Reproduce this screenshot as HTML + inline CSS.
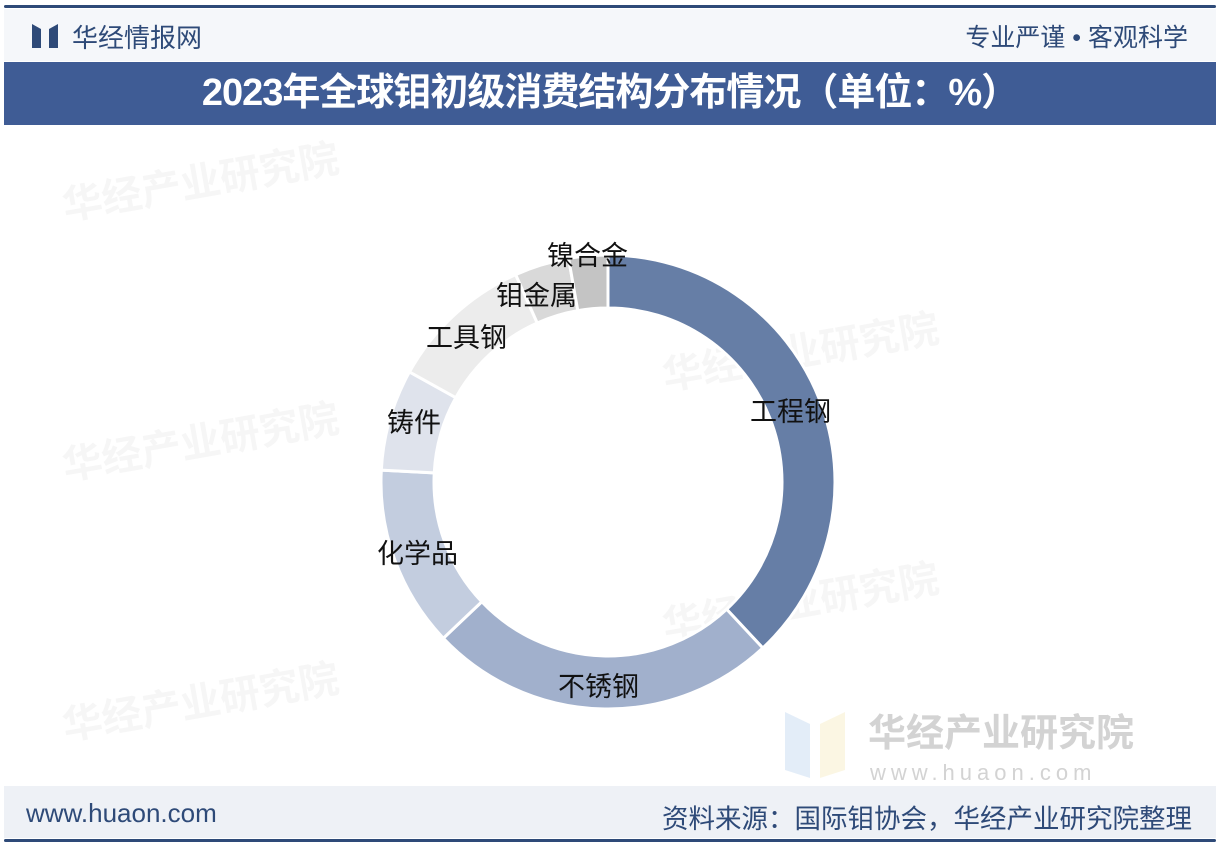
<!DOCTYPE html>
<html><head><meta charset="utf-8"><style>
html,body{margin:0;padding:0;background:#fff;}
body{width:1220px;height:852px;position:relative;overflow:hidden;font-family:"Liberation Sans","Noto Sans CJK SC",sans-serif;}
.topline{position:absolute;left:4px;right:4px;top:5px;height:3px;background:#2e4a78;border-radius:2px;}
.head{position:absolute;left:4px;right:4px;top:9px;height:52px;background:#f5f7fa;}
.logo{position:absolute;left:32px;top:24px;width:26px;height:24px;}
.brand{position:absolute;left:72px;top:18px;font-size:26px;color:#2e4a78;}
.slogan{position:absolute;right:32px;top:18px;font-size:25px;color:#2e4a78;}
.title{position:absolute;left:4px;right:4px;top:62px;height:63px;background:#3f5c95;color:#fff;font-size:38px;font-weight:bold;text-align:center;line-height:63px;letter-spacing:-1px;}
.foot{position:absolute;left:4px;right:4px;top:786px;height:52px;background:#eef1f6;}
.url{position:absolute;left:26px;top:798px;font-size:26px;color:#2e4a78;}
.src{position:absolute;right:28px;top:797px;font-size:26.5px;color:#2e4a78;}
.botline{position:absolute;left:4px;right:4px;top:839px;height:3px;background:#2e4a78;border-radius:2px;}
.wm{position:absolute;color:#000;opacity:0.03;font-size:40px;font-weight:bold;transform:rotate(-10deg);}
</style></head><body>
<div class="topline"></div>
<div class="head"></div>
<svg class="logo" viewBox="0 0 26 24"><polygon points="0,0 9,5 9,24 0,24" fill="#2e4a78"/><polygon points="26,0 17,5 17,24 26,24" fill="#2e4a78"/></svg>
<div class="brand">华经情报网</div>
<div class="slogan">专业严谨 • 客观科学</div>
<div class="title">2023年全球钼初级消费结构分布情况（单位：%）</div>
<div class="wm" style="left:60px;top:150px">华经产业研究院</div>
<div class="wm" style="left:60px;top:410px">华经产业研究院</div>
<div class="wm" style="left:60px;top:670px">华经产业研究院</div>
<div class="wm" style="left:660px;top:320px">华经产业研究院</div>
<div class="wm" style="left:660px;top:570px">华经产业研究院</div>
<svg id="c" width="1220" height="852" style="position:absolute;left:0;top:0">
<g opacity="0.5"><polygon points="785,712 810,724 810,778 785,770" fill="#c9dcf3"/><polygon points="845,712 820,724 820,778 845,770" fill="#f8efc8"/></g>
<text x="868" y="746" font-size="38" font-weight="bold" fill="#d3d3d3" font-family="Liberation Sans,Noto Sans CJK SC,sans-serif">华经产业研究院</text>
<text x="870" y="780" font-size="22" fill="#d3d3d3" letter-spacing="5" font-family="Liberation Sans,sans-serif">www.huaon.com</text>
<g id="d"></g>
<g font-size="27" fill="#111" font-family="Liberation Sans,Noto Sans CJK SC,sans-serif">
<text x="547" y="265">镍合金</text>
<text x="496" y="305">钼金属</text>
<text x="426" y="347">工具钢</text>
<text x="387" y="432">铸件</text>
<text x="377" y="563">化学品</text>
<text x="750" y="421">工程钢</text>
<text x="558" y="696">不锈钢</text>
</g>
</svg>
<div class="foot"></div>
<div class="url">www.huaon.com</div>
<div class="src">资料来源：国际钼协会，华经产业研究院整理</div>
<div class="botline"></div>
<script>
var cx=608,cy=482,R=227,r=174;
var segs=[[0,137,"#667ea6"],[137,226.5,"#a1b0cc"],[226.5,273,"#c3cddf"],[273,299,"#dfe3ec"],[299,336,"#ececec"],[336,350,"#d9d9d9"],[350,360,"#c4c4c4"]];
function p(a,rad){a=a*Math.PI/180;return [cx+rad*Math.sin(a),cy-rad*Math.cos(a)];}
var h="";
segs.forEach(function(s){var a=s[0],b=s[1],l=(b-a)>180?1:0;var o1=p(a,R),o2=p(b,R),i2=p(b,r),i1=p(a,r);
h+='<path d="M'+o1+' A'+R+','+R+' 0 '+l+' 1 '+o2+' L'+i2+' A'+r+','+r+' 0 '+l+' 0 '+i1+' Z" fill="'+s[2]+'" stroke="#fff" stroke-width="3"/>';});
document.getElementById("d").innerHTML=h;
</script>
</body></html>
